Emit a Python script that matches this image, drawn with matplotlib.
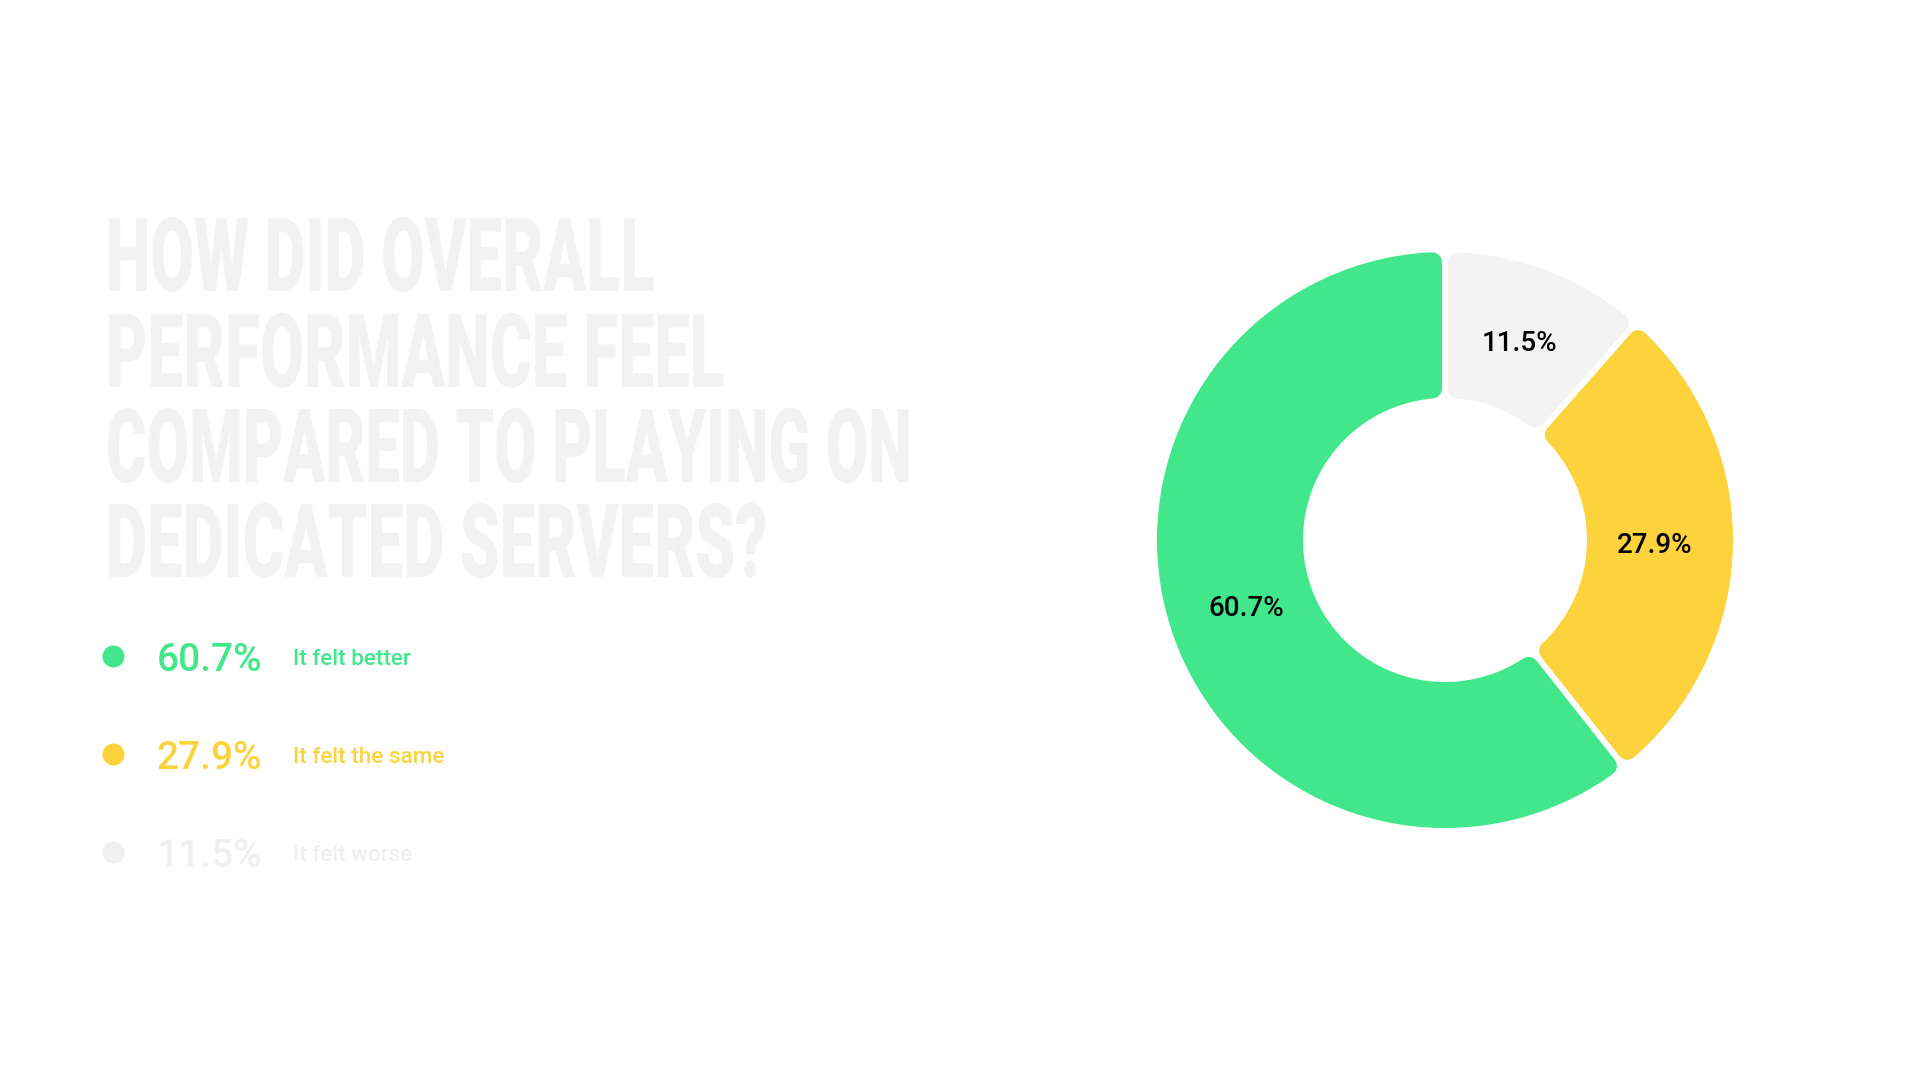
import numpy as np
import matplotlib
matplotlib.use("Agg")
import matplotlib.pyplot as plt
from matplotlib.patches import Polygon
from matplotlib.patheffects import AbstractPathEffect
from matplotlib.transforms import Affine2D

# data
answers = ["It felt worse", "It felt the same", "It felt better"]
shares = [11.5, 27.9, 60.7]
colors = ["#f3f3f3", "#fdd33d", "#42e78c"]
title_lines = ["HOW DID OVERALL", "PERFORMANCE FEEL",
               "COMPARED TO PLAYING ON", "DEDICATED SERVERS?"]
legend_order = [2, 1, 0]  # better, same, worse


class Squeeze(AbstractPathEffect):
    """squash glyphs horizontally around x0 (display px) - fake condensed font"""
    def __init__(self, sx, x0):
        super().__init__()
        self.sx = sx
        self.x0 = x0

    def draw_path(self, renderer, gc, tpath, affine, rgbFace=None):
        a = affine + Affine2D().translate(-self.x0, 0).scale(self.sx, 1).translate(self.x0, 0)
        renderer.draw_path(gc, tpath, a, rgbFace)


fig = plt.figure(figsize=(19.2, 10.8), dpi=100)
fig.patch.set_facecolor("white")

# left side, pixel coords
ax0 = fig.add_axes([0, 0, 1, 1])
ax0.set_xlim(0, 1920)
ax0.set_ylim(1080, 0)
ax0.axis("off")

title_x = 106
title_y = [291, 387, 482, 577]
title_w = [549, 619, 806, 662]  # line widths in px
titles = []
for line, y in zip(title_lines, title_y):
    t = ax0.text(title_x, y, line, color="#f2f2f2", fontsize=74,
                 family="Roboto", fontweight="heavy",
                 va="baseline", ha="left")
    titles.append(t)

fig.canvas.draw()
for t, tw in zip(titles, title_w):
    sx = tw / t.get_window_extent().width
    t.set_path_effects([Squeeze(sx, title_x)])

leg_y = [656, 754, 852]
for i, y in zip(legend_order, leg_y):
    c = colors[i] if i != 0 else "#f0f0f0"
    ax0.scatter([113], [y], s=250, color=c, linewidths=0)
    ax0.text(157, y + 15, "%.1f%%" % shares[i], color=c, fontsize=28,
             family="Roboto", fontweight="medium", va="baseline", ha="left")
    ax0.text(293, y + 9, answers[i], color=c, fontsize=16.2,
             family="Roboto", fontweight="medium", va="baseline", ha="left")

# donut, axes in pixel units around the centre
cx, cy = 1445, 540
half = 310
ax = fig.add_axes([(cx - half) / 1920, (1080 - cy - half) / 1080,
                   2 * half / 1920, 2 * half / 1080])
ax.set_xlim(-half, half)
ax.set_ylim(-half, half)
ax.set_aspect("equal")
ax.axis("off")

r_out, r_in = 288, 142
gap = 6
w = 20  # stroke width (px) -> rounded corners


def ring_segment(t_lo, t_hi, ri, ro, h, color, n=120):
    a_o = np.arcsin(h / ro)
    a_i = np.arcsin(h / ri)
    outer = np.linspace(t_lo + a_o, t_hi - a_o, n)
    inner = np.linspace(t_hi - a_i, t_lo + a_i, n)
    xs = np.concatenate([ro * np.cos(outer), ri * np.cos(inner)])
    ys = np.concatenate([ro * np.sin(outer), ri * np.sin(inner)])
    return Polygon(np.column_stack([xs, ys]), closed=True, facecolor=color,
                   edgecolor=color, linewidth=w * 72 / 100, joinstyle="round")


total = sum(shares)
start = 90.0
for v, c in zip(shares, colors):
    sweep = v / total * 360
    t_hi = np.radians(start)
    t_lo = np.radians(start - sweep)
    ax.add_patch(ring_segment(t_lo, t_hi, r_in + w / 2, r_out - w / 2,
                              gap / 2 + w / 2, c))
    mid = (t_lo + t_hi) / 2
    rl = 210
    ax.text(rl * np.cos(mid), rl * np.sin(mid), "%.1f%%" % v, fontsize=20,
            family="Roboto", fontweight="medium", color="black",
            ha="center", va="center")
    start -= sweep

fig.savefig("out.png", dpi=100, facecolor="white")
